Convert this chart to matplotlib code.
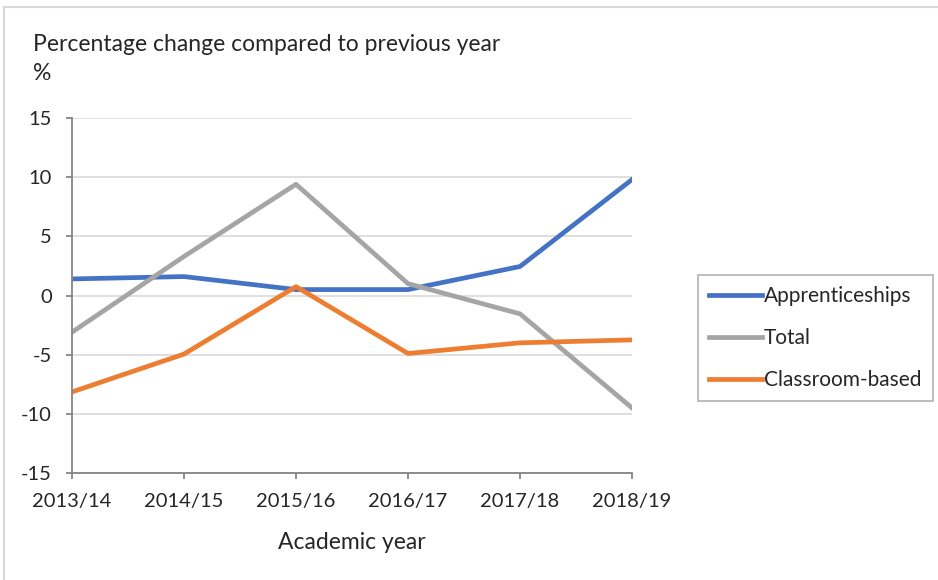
import matplotlib
matplotlib.use("Agg")
import matplotlib.pyplot as plt
from matplotlib.lines import Line2D

years = ["2013/14", "2014/15", "2015/16", "2016/17", "2017/18", "2018/19"]
apprenticeships = [1.4, 1.6, 0.5, 0.5, 2.45, 9.8]
total = [-3.1, 3.3, 9.4, 1.0, -1.55, -9.5]
classroom = [-8.15, -4.95, 0.75, -4.9, -4.0, -3.75]
yticks = [-15, -10, -5, 0, 5, 10, 15]

plt.rcParams['font.family'] = ['Lato', 'DejaVu Sans']
plt.rcParams['axes.unicode_minus'] = False

fig = plt.figure(figsize=(9.38, 5.8), dpi=100)
ax = fig.add_axes([72/938, 1-473/580, 560/938, 355/580])

x = list(range(len(years)))
lw = 3.4
ax.plot(x, apprenticeships, color='#4472C4', lw=lw, label='Apprenticeships', solid_joinstyle='round')
ax.plot(x, total, color='#A5A5A5', lw=lw, label='Total', solid_joinstyle='round')
ax.plot(x, classroom, color='#ED7D31', lw=lw, label='Classroom-based', solid_joinstyle='round')

ax.set_xlim(0, len(years)-1)
ax.set_ylim(-15, 15)
ax.set_yticks(yticks)
ax.set_yticklabels([str(v) for v in yticks])
ax.set_xticks(x)
ax.set_xticklabels(years)
ax.grid(axis='y', color='#D9D9D9', lw=1.2)
ax.set_axisbelow(True)
for s in ['top', 'right']:
    ax.spines[s].set_visible(False)
for s in ['left', 'bottom']:
    ax.spines[s].set_color('#868686')
    ax.spines[s].set_linewidth(1.3)
ax.tick_params(axis='both', colors='#868686', length=4.5, width=1.3, labelsize=14.5, labelcolor='#262626')
ax.tick_params(axis='x', pad=10)
ax.tick_params(axis='y', pad=10)

ax.set_xlabel('Academic year', fontsize=16.5, color='#262626', labelpad=16)

fig.text(33/938, 1-51/580, 'Percentage change compared to previous year', fontsize=16.5, color='#262626', ha='left', va='baseline')
fig.text(33/938, 1-80/580, '%', fontsize=16.5, color='#262626', ha='left', va='baseline')

leg = fig.legend(loc='center left', bbox_to_anchor=(698/938, 1-338/580), fontsize=15,
                 frameon=True, fancybox=False, edgecolor='#A6A6A6', handlelength=2.5,
                 handletextpad=0.1, labelspacing=1.05, borderpad=0.55, borderaxespad=0)
leg.get_frame().set_linewidth(1.3)
for t in leg.get_texts():
    t.set_color('#262626')

# outer border (top and left)
fig.add_artist(Line2D([4/938, 4/938], [0, 1-7/580], color='#D9D9D9', lw=1.5, transform=fig.transFigure))
fig.add_artist(Line2D([4/938, 1], [1-7/580, 1-7/580], color='#D9D9D9', lw=1.5, transform=fig.transFigure))

fig.savefig('out.png', dpi=100)
